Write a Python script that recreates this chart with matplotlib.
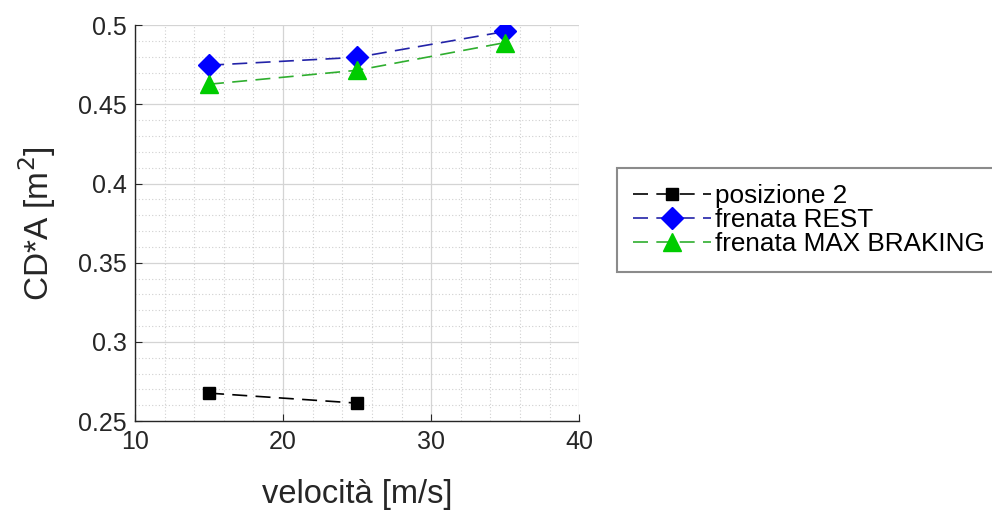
import matplotlib
matplotlib.use("Agg")
import matplotlib.pyplot as plt
from matplotlib.ticker import MultipleLocator, FuncFormatter

plt.rcParams['font.family'] = ['Liberation Sans', 'DejaVu Sans']

velocita = [15, 25, 35]
pos2_x = [15, 25]
pos2 = [0.2677, 0.2614]
rest = [0.4747, 0.4797, 0.4960]
maxbrake = [0.4627, 0.4715, 0.4890]

labels = ['posizione 2', 'frenata REST', 'frenata MAX BRAKING']
xticks = [10, 20, 30, 40]
yticks = [0.25, 0.3, 0.35, 0.4, 0.45, 0.5]

fig = plt.figure(figsize=(9.92, 5.13), dpi=100)
ax = fig.add_axes([0.136, 0.179, 0.448, 0.772])

dash = (0, (9, 5))
ax.plot(pos2_x, pos2, linestyle=dash, color='black', lw=1.2, marker='s',
        markersize=8, markerfacecolor='black', markeredgecolor='black', label=labels[0])
ax.plot(velocita, rest, linestyle=dash, color='#2323a8', lw=1.2, marker='D',
        markersize=11, markerfacecolor='#0000ff', markeredgecolor='#0000ff', label=labels[1])
ax.plot(velocita, maxbrake, linestyle=dash, color='#2fae2f', lw=1.2, marker='^',
        markersize=13, markerfacecolor='#00cc00', markeredgecolor='#00cc00', label=labels[2])

ax.set_xlim(10, 40)
ax.set_ylim(0.25, 0.5)
ax.set_xticks(xticks)
ax.set_yticks(yticks)
ax.yaxis.set_major_formatter(FuncFormatter(lambda v, p: f"{v:g}"))
ax.xaxis.set_minor_locator(MultipleLocator(2))
ax.yaxis.set_minor_locator(MultipleLocator(0.01))

ax.grid(True, which='major', color='#d4d4d4', lw=0.9, linestyle='-')
ax.grid(True, which='minor', color='#d0d0d0', lw=0.8, linestyle=(0, (1, 2)))
ax.set_axisbelow(True)

for s in ['top', 'right']:
    ax.spines[s].set_visible(False)
for s in ['left', 'bottom']:
    ax.spines[s].set_color('#262626')
    ax.spines[s].set_linewidth(1.0)

ax.tick_params(which='major', direction='in', length=5, labelsize=18, colors='#262626',
               labelcolor='#262626', pad=6)
ax.tick_params(which='minor', length=0)

ax.set_xlabel('velocità [m/s]', fontsize=23.5, color='#262626', labelpad=18)
ax.set_ylabel('CD*A [m$^2$]', fontsize=24, color='#262626', labelpad=14)

leg = fig.legend(loc='upper left', bbox_to_anchor=(0.622, 0.672), fontsize=18.8,
                 frameon=True, fancybox=False, handlelength=3.0, handletextpad=0.15,
                 labelspacing=0.0, borderpad=0.6, borderaxespad=0)
leg.get_frame().set_edgecolor('#6e6e6e')
leg.get_frame().set_linewidth(1.5)

fig.savefig('out.png', dpi=100, facecolor='white')
